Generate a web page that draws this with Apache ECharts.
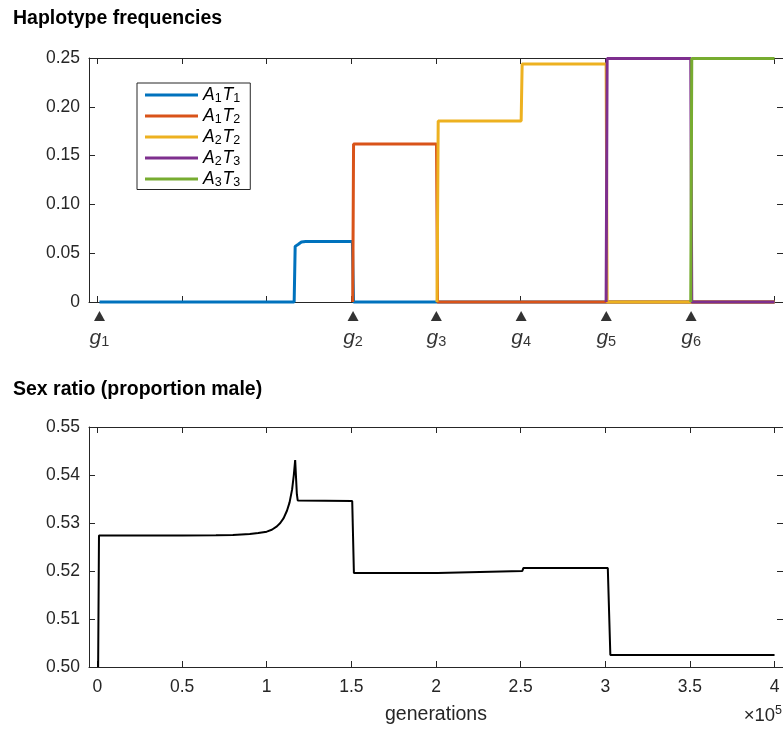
<!DOCTYPE html>
<html>
<head>
<meta charset="utf-8">
<script src="https://cdn.jsdelivr.net/npm/echarts@6/dist/echarts.min.js"></script>
<style>
  html, body { margin: 0; padding: 0; background: #fff; }
  #chart { width: 783px; height: 730px; }
</style>
</head>
<body>
<div id="chart"></div>
<script>
// generation ticks (shown as value / 1e5)
var genTicks = [0, 50000, 100000, 150000, 200000, 250000, 300000, 350000, 400000]
// g1..g6 marker positions
var gMarks = [1200, 151000, 200200, 250300, 300600, 350700]

// haplotype frequencies [generation, frequency]
var a1t1 = [[1200, 0], [116200, 0], [116800, 0.057], [118500, 0.059], [120500, 0.0615], [123000, 0.062], [150600, 0.062], [151300, 0], [400000, 0]]
var a1t2 = [[150800, 0], [151300, 0.162], [200300, 0.162], [200900, 0], [400000, 0]]
var a2t2 = [[200600, 0], [201300, 0.1855], [250300, 0.1855], [250900, 0.2438], [300500, 0.2438], [301100, 0], [400000, 0]]
var a2t3 = [[300500, 0], [301100, 0.2495], [350500, 0.2495], [351100, 0], [400000, 0]]
var a3t3 = [[350500, 0], [351100, 0.2495], [400000, 0.2495]]

// sex ratio [generation, proportion male]
var sexRatio = [[400, 0.5], [900, 0.5274], [50000, 0.5274], [70000, 0.52745], [80000, 0.5275],
  [85000, 0.5276], [90000, 0.5277], [95000, 0.5279], [100000, 0.5282], [103000, 0.5286],
  [106000, 0.5293], [108000, 0.53], [110000, 0.531], [112000, 0.5326], [113500, 0.5343],
  [115000, 0.537], [116000, 0.54], [116800, 0.5431], [117800, 0.536], [118300, 0.5347],
  [150500, 0.5346], [151500, 0.5196], [201000, 0.5196], [201600, 0.52], [251000, 0.52],
  [251600, 0.5206], [301500, 0.5206], [303000, 0.5025], [400000, 0.5025]]

var FONT = '"Liberation Sans", Arial, Helvetica, sans-serif'
var AX = '#262626'
var colors = ['#0072BD', '#D95319', '#EDB120', '#7E2F8E', '#77AC30']

var chart = echarts.init(document.getElementById('chart'))

function xAx(grid, pos, labels) {
  return {
    type: 'value', gridIndex: grid, position: pos,
    min: -5000, max: 405000,
    axisLine: { show: true, onZero: false, lineStyle: { color: AX, width: 1 } },
    axisTick: { show: true, inside: true, length: 6, customValues: genTicks, lineStyle: { color: AX } },
    axisLabel: {
      show: labels, customValues: genTicks, color: AX, fontSize: 17.5, fontFamily: FONT, margin: 11,
      formatter: function (v) { return String(v / 100000) }
    },
    splitLine: { show: false }
  }
}

function yAx(grid, pos, min, max, step, labels, fmt) {
  return {
    type: 'value', gridIndex: grid, position: pos,
    min: min, max: max, interval: step,
    axisLine: { show: true, onZero: false, lineStyle: { color: AX, width: 1 } },
    axisTick: { show: true, inside: true, length: 6, lineStyle: { color: AX } },
    axisLabel: { show: labels, color: AX, fontSize: 17.5, fontFamily: FONT, margin: 9, formatter: fmt },
    splitLine: { show: false }
  }
}

function hapSeries(name, data, i) {
  return {
    name: name, type: 'line', xAxisIndex: 0, yAxisIndex: 0,
    data: data, showSymbol: false, clip: false,
    lineStyle: { color: colors[i], width: 3 },
    itemStyle: { color: colors[i] },
    emphasis: { disabled: true }
  }
}

chart.setOption({
  animation: false,
  title: [
    { text: 'Haplotype frequencies', left: 8, top: 4, textStyle: { fontSize: 19.5, fontWeight: 'bold', color: '#000', fontFamily: FONT } },
    { text: 'Sex ratio (proportion male)', left: 8, top: 375, textStyle: { fontSize: 19.5, fontWeight: 'bold', color: '#000', fontFamily: FONT } }
  ],
  legend: {
    left: 137, top: 83, orient: 'vertical',
    backgroundColor: '#fff', borderColor: AX, borderWidth: 1,
    padding: [3, 9, 0, 8], itemGap: 1.5,
    icon: 'rect', itemWidth: 53, itemHeight: 3,
    data: ['A1T1', 'A1T2', 'A2T2', 'A2T3', 'A3T3'],
    formatter: function (name) {
      return '{n|A}{s|' + name[1] + '}{n|T}{s|' + name[3] + '}'
    },
    textStyle: {
      fontFamily: FONT, color: '#000',
      rich: {
        n: { fontSize: 17.5, fontStyle: 'italic', fontFamily: FONT, color: '#000', lineHeight: 21 },
        s: { fontSize: 12.5, fontFamily: FONT, color: '#000', lineHeight: 8, verticalAlign: 'bottom', padding: [0, 1, 0, 0] }
      }
    }
  },
  grid: [
    { left: 89, right: 0, top: 58, height: 244 },
    { left: 89, right: 0, top: 306, height: 20 },
    { left: 89, right: 0, top: 427, height: 240 }
  ],
  xAxis: [
    xAx(0, 'bottom', false),
    xAx(0, 'top', false),
    { type: 'value', gridIndex: 1, min: -5000, max: 405000, show: false },
    xAx(2, 'bottom', true),
    xAx(2, 'top', false)
  ],
  yAxis: [
    yAx(0, 'left', 0, 0.25, 0.05, true, function (v) { return v === 0 ? '0' : v.toFixed(2) }),
    yAx(0, 'right', 0, 0.25, 0.05, false),
    { type: 'value', gridIndex: 1, min: 0, max: 1, show: false },
    yAx(2, 'left', 0.5, 0.55, 0.01, true, function (v) { return v.toFixed(2) }),
    yAx(2, 'right', 0.5, 0.55, 0.01, false)
  ],
  graphic: [
    { type: 'text', left: 385, top: 705, style: { text: 'generations', fontSize: 19.5, fontFamily: FONT, fill: '#262626' } },
    {
      type: 'text', right: 1, top: 704,
      style: {
        text: '{a|×10}{b|5}', fill: '#262626',
        rich: {
          a: { fontSize: 18.5, fontFamily: FONT, color: '#262626', lineHeight: 24 },
          b: { fontSize: 12.5, fontFamily: FONT, color: '#262626', lineHeight: 12, verticalAlign: 'top' }
        }
      }
    }
  ],
  series: [
    hapSeries('A1T1', a1t1, 0),
    hapSeries('A1T2', a1t2, 1),
    hapSeries('A2T2', a2t2, 2),
    hapSeries('A2T3', a2t3, 3),
    hapSeries('A3T3', a3t3, 4),
    {
      type: 'scatter', xAxisIndex: 2, yAxisIndex: 2,
      data: gMarks.map(function (g) { return [g, 0.5] }),
      symbol: 'triangle', symbolSize: [11, 10], clip: false,
      itemStyle: { color: '#000' },
      emphasis: { disabled: true },
      label: {
        show: true, position: 'bottom', distance: 6,
        formatter: function (p) { return '{g|g}{s|' + (p.dataIndex + 1) + '}' },
        rich: {
          g: { fontSize: 21, fontStyle: 'italic', fontFamily: FONT, color: '#000', lineHeight: 22 },
          s: { fontSize: 14.5, fontFamily: FONT, color: '#000', lineHeight: 12, verticalAlign: 'bottom' }
        }
      }
    },
    {
      type: 'line', xAxisIndex: 3, yAxisIndex: 3,
      data: sexRatio, showSymbol: false, clip: false,
      lineStyle: { color: '#000', width: 2 },
      emphasis: { disabled: true }
    }
  ]
})
</script>
</body>
</html>
